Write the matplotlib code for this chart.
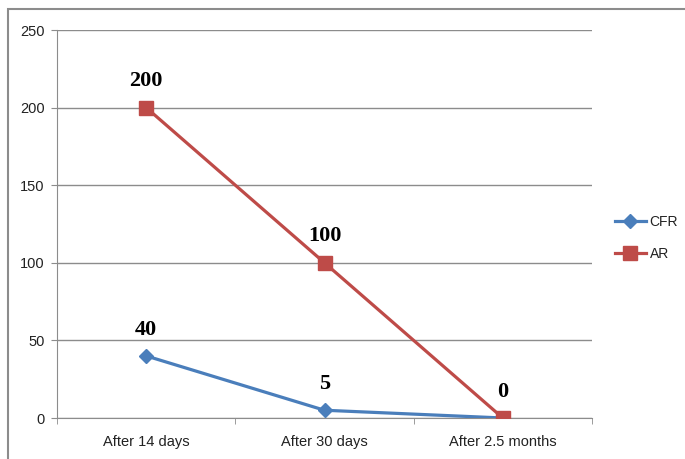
import matplotlib
matplotlib.use('Agg')
import matplotlib.pyplot as plt
from matplotlib.patches import Rectangle

categories = ['After 14 days', 'After 30 days', 'After 2.5 months']
cfr = [40, 5, 0]
ar = [200, 100, 0]
cfr_labels = ['40', '5', '']
ar_labels = ['200', '100', '0']
yticks = [0, 50, 100, 150, 200, 250]

blue = '#4a7ebb'
red = '#be4b48'
grid_gray = '#8c8c8c'
sans = ['Liberation Sans', 'DejaVu Sans']

fig = plt.figure(figsize=(6.85, 4.59), dpi=100)
ax = fig.add_axes([57 / 685, 1 - 418 / 459, (592 - 57) / 685, (418 - 30) / 459])

# outer chart frame (cut off on right and bottom in the original)
fig.patches.append(Rectangle((8 / 685, -0.1), 1.2, 1 - 9 / 459 + 0.1,
                             transform=fig.transFigure, fill=False,
                             edgecolor='#8c8c8c', linewidth=1.5))

x = list(range(len(categories)))
ax.plot(x, cfr, color=blue, linewidth=2.3, marker='D', markersize=7,
        label='CFR', zorder=3)
ax.plot(x, ar, color=red, linewidth=2.3, marker='s', markersize=9.5,
        label='AR', zorder=4)

for xi, v, t in zip(x, cfr, cfr_labels):
    if t:
        ax.annotate(t, (xi, v), xytext=(0, 19), textcoords='offset points',
                    ha='center', va='center', fontsize=16, fontweight='bold',
                    family='Liberation Serif')
for xi, v, t in zip(x, ar, ar_labels):
    ax.annotate(t, (xi, v), xytext=(0, 19), textcoords='offset points',
                ha='center', va='center', fontsize=16, fontweight='bold',
                family='Liberation Serif')

ax.set_xlim(-0.5, 2.5)
ax.set_ylim(0, 250)
ax.set_yticks(yticks)
ax.set_xticks(x)
ax.set_xticklabels(categories)
ax.set_xticks([-0.5, 0.5, 1.5, 2.5], minor=True)
ax.tick_params(axis='x', which='major', length=0, pad=12)
ax.tick_params(axis='x', which='minor', length=4, color=grid_gray, direction='out')
ax.tick_params(axis='y', length=4, color=grid_gray, pad=5)
for lab in ax.get_xticklabels() + ax.get_yticklabels():
    lab.set_family(sans)
    lab.set_fontsize(10.5)
    lab.set_color('#222222')

ax.grid(axis='y', color=grid_gray, linewidth=1)
ax.set_axisbelow(True)
for s in ['top', 'right']:
    ax.spines[s].set_visible(False)
ax.spines['left'].set_color(grid_gray)
ax.spines['bottom'].set_color(grid_gray)

leg = fig.legend(loc='center left', bbox_to_anchor=(615 / 685, 1 - 238 / 459),
                 frameon=False, handlelength=2.2, labelspacing=1.3,
                 borderpad=0, borderaxespad=0, handletextpad=0.3,
                 prop={'family': sans, 'size': 10})
for t in leg.get_texts():
    t.set_color('#222222')

fig.savefig('out.png', dpi=100)
